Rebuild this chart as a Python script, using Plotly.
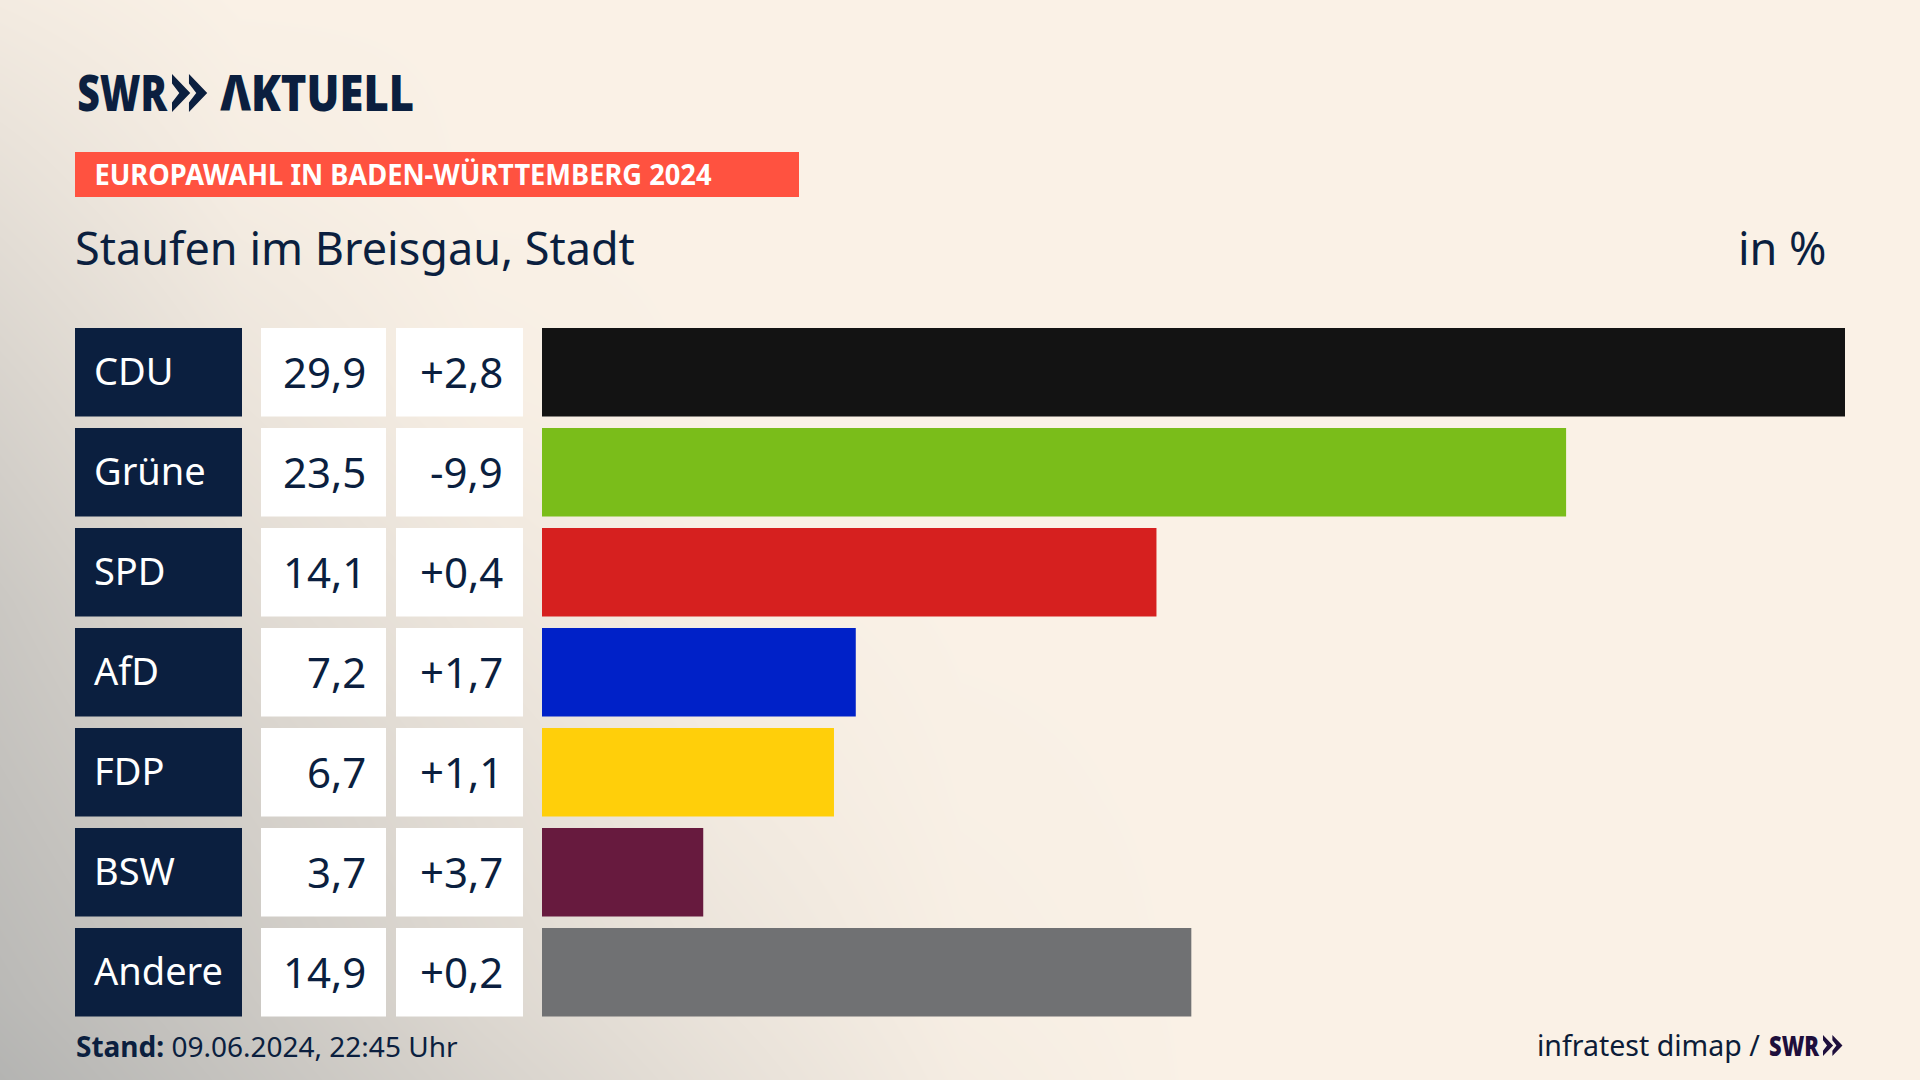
import json
import plotly.graph_objects as go

parties = ["CDU", "Grüne", "SPD", "AfD", "FDP", "BSW", "Andere"]
shares = [29.9, 23.5, 14.1, 7.2, 6.7, 3.7, 14.9]
changes = [2.8, -9.9, 0.4, 1.7, 1.1, 3.7, 0.2]
bar_colors = ["#131313", "#7ABD1A", "#D6201F", "#0021C8", "#FFCF0A", "#671A3E", "#707173"]

# shade of the backdrop, 0 = cream, 1 = grey
bg_x = [0, 240, 480, 720, 960, 1200, 1920]
bg_y = [0, 200, 400, 600, 800, 1000, 1080]
bg_shade = [
    [0.10, 0.00, 0.00, 0.00, 0.00, 0.00, 0.00],
    [0.30, 0.08, 0.00, 0.00, 0.00, 0.00, 0.00],
    [0.50, 0.22, 0.05, 0.00, 0.00, 0.00, 0.00],
    [0.68, 0.38, 0.18, 0.04, 0.00, 0.00, 0.00],
    [0.80, 0.55, 0.32, 0.12, 0.02, 0.00, 0.00],
    [0.92, 0.68, 0.42, 0.22, 0.05, 0.00, 0.00],
    [1.00, 0.75, 0.50, 0.28, 0.08, 0.00, 0.00],
]

NAVY = "#0B1F3F"
FONT = "Noto Sans"
W, H = 1920, 1080
ROW_TOP, ROW_STEP, ROW_H = 328, 100, 88.5


def de(v, sign=False):
    s = f"{v:+.1f}" if sign else f"{v:.1f}"
    return s.replace(".", ",")


def chevron(x, y, size):
    # double arrow from the SWR logo, x/y is the top left corner
    path = ""
    w = size * 0.48
    for dx in (0, w * 0.93):
        x0 = x + dx
        path += (f"M{x0},{y} L{x0 + w},{y + size / 2} L{x0},{y + size} "
                 f"L{x0},{y + size * 0.75} L{x0 + w * 0.4},{y + size / 2} L{x0},{y + size * 0.25} Z ")
    return path


fig = go.Figure()

fig.add_trace(go.Heatmap(x=bg_x, y=bg_y, z=bg_shade, zmin=0, zmax=1, zsmooth="best",
                         colorscale=[[0, "#FAF1E6"], [1, "#B4B4B2"]],
                         showscale=False, hoverinfo="skip", xaxis="x", yaxis="y"))

fig.add_trace(go.Bar(x=shares, y=parties, orientation="h", marker=dict(color=bar_colors, line_width=0),
                     hoverinfo="skip", xaxis="x2", yaxis="y2"))

shapes = []
annotations = []
squeezed = {}  # annotation index -> width in px, the SWR lettering is narrower than any installed font


def box(x0, x1, y0, y1, color):
    shapes.append(dict(type="rect", xref="x", yref="y", x0=x0, x1=x1, y0=y0, y1=y1,
                       fillcolor=color, line_width=0))


def label(x, y, text, size, color=NAVY, anchor="left", weight=400):
    annotations.append(dict(xref="x", yref="y", x=x, y=y, text=text, showarrow=False,
                            xanchor=anchor, yanchor="middle", borderpad=0,
                            font=dict(family=FONT, size=size, color=color, weight=weight)))


def squeezed_label(x0, x1, y, text, size, color=NAVY, weight=800):
    label((x0 + x1) / 2, y, text, size, color=color, anchor="center", weight=weight)
    squeezed[len(annotations) - 1] = x1 - x0


for i, party in enumerate(parties):
    top = ROW_TOP + ROW_STEP * i
    mid = top + ROW_H / 2
    box(75, 242, top, top + ROW_H, NAVY)
    box(261, 386, top, top + ROW_H, "#FFFFFF")
    box(396, 523, top, top + ROW_H, "#FFFFFF")
    label(93, mid - 2, party, 38, color="#FFFFFF")
    label(367, mid - 1, de(shares[i]), 42, anchor="right")
    label(504, mid - 1, de(changes[i], sign=True), 42, anchor="right")

# header
squeezed_label(77, 167, 92, "SWR", 49, weight=900)
shapes.append(dict(type="path", xref="x", yref="y", path=chevron(172, 74, 38), fillcolor=NAVY, line_width=0))
squeezed_label(220, 414, 92, "ΛKTUELL", 49, weight=900)

box(75, 799, 152, 197, "#FF5240")
squeezed_label(94, 711, 174, "EUROPAWAHL IN BADEN-WÜRTTEMBERG 2024", 28, color="#FFFFFF", weight=700)

label(74, 247, "Staufen im Breisgau, Stadt", 45)
label(1828, 247, "in %", 45, anchor="right")

# footer
label(75, 1046, "<b>Stand:</b> 09.06.2024, 22:45 Uhr", 28)
label(1761, 1045, "infratest dimap /", 28.5, anchor="right", color="#0C1C38")
squeezed_label(1769, 1819, 1045, "SWR", 28, color="#1E0F3C", weight=900)
shapes.append(dict(type="path", xref="x", yref="y", path=chevron(1823, 1035, 21), fillcolor="#1E0F3C", line_width=0))

hidden = dict(visible=False, showgrid=False, zeroline=False)
fig.update_layout(
    width=W, height=H,
    margin=dict(l=0, r=0, t=0, b=0),
    paper_bgcolor="#FAF1E6",
    plot_bgcolor="rgba(0,0,0,0)",
    showlegend=False,
    bargap=1 - ROW_H / ROW_STEP,
    shapes=shapes,
    annotations=annotations,
    xaxis=dict(domain=[0, 1], range=[0, W], **hidden),
    yaxis=dict(domain=[0, 1], range=[H, 0], **hidden),
    xaxis2=dict(domain=[542 / W, 1845 / W], range=[0, 29.9], anchor="y2", **hidden),
    yaxis2=dict(domain=[1 - 1022.25 / H, 1 - 322.25 / H], range=[6.5, -0.5], anchor="x2",
                type="category", categoryorder="array", categoryarray=parties, **hidden),
)

# the page has a default body margin, it would shift the figure
post = """
document.body.style.margin = '0';
document.body.style.overflow = 'hidden';
var squeezed = %s;
Object.keys(squeezed).forEach(function (i) {
    var t = document.querySelector('.annotation[data-index="' + i + '"] text');
    t.setAttribute('textLength', squeezed[i]);
    t.setAttribute('lengthAdjust', 'spacingAndGlyphs');
});
""" % json.dumps(squeezed)

fig.write_html("out.html", config=dict(displayModeBar=False), post_script=post)
